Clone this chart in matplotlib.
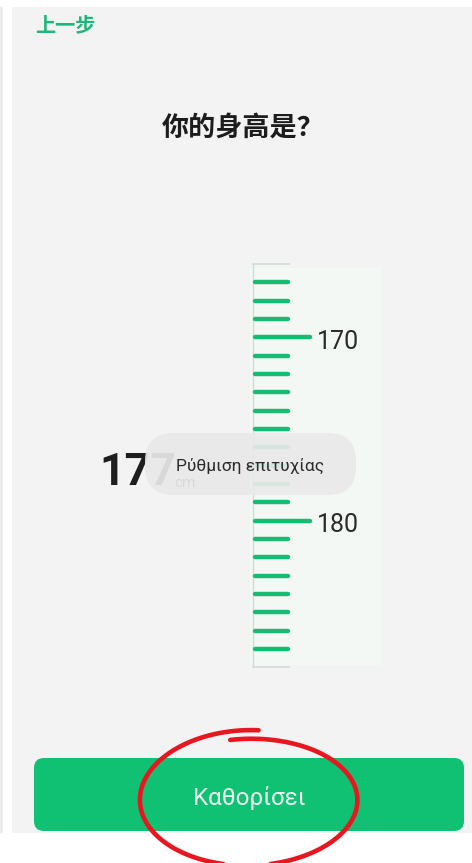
import numpy as np
import matplotlib
matplotlib.use("Agg")
import matplotlib.pyplot as plt
from matplotlib.patches import Rectangle, FancyBboxPatch

plt.rcParams['font.family'] = ['Roboto', 'Noto Sans CJK SC', 'DejaVu Sans']

# Screen texts
back_label = "上一步"
title = "你的身高是？"
toast_text = "Ρύθμιση επιτυχίας"
button_label = "Καθορίσει"
unit = "cm"

# Ruler data (cm)
ruler_values = list(range(166, 189))
labeled_values = [170, 180]
faded_values = [166, 188]
selected_height = 177

# Colours
bg_gray = "#f3f3f3"
panel_color = "#f4f8f4"
green = "#17bb74"
button_green = "#10c073"
red = "#e8161e"

W, H = 472, 863
fig = plt.figure(figsize=(W / 100, H / 100), dpi=100)
fig.patch.set_facecolor("white")
ax = fig.add_axes([0, 0, 1, 1])
ax.set_xlim(0, W)
ax.set_ylim(H, 0)
ax.axis("off")

# Screen background
ax.add_patch(Rectangle((0, 7), 3, 826, facecolor="#ececec", edgecolor="none"))
ax.add_patch(Rectangle((12, 7), W - 12, 826, facecolor=bg_gray, edgecolor="none"))

# Header
ax.text(35, 25, back_label, fontsize=14.5, fontweight="bold", color="#1fb67a",
        ha="left", va="center", family=["Noto Sans CJK SC"])
ax.text(243, 128, title, fontsize=19.5, fontweight="bold", color="#1c1c1c",
        ha="center", va="center", family=["Noto Sans CJK SC"])

# Ruler panel
ax.add_patch(Rectangle((250, 268), 132, 397, facecolor=panel_color, edgecolor="none"))

# Selected value (partly hidden by the toast later)
ax.text(99, 485, str(selected_height), fontsize=32, fontweight="bold",
        color="#1e1e1e", ha="left", va="baseline")
ax.text(174, 487, unit, fontsize=11, color="#1e1e1e", ha="left", va="baseline")

# Ruler
rax = fig.add_axes([250 / W, 1 - 669 / H, 132 / W, 407 / H])
rax.set_xlim(250, 382)
rax.set_ylim(188.1, 165.9)
rax.axis("off")
rax.patch.set_alpha(0)
rax.vlines(253, 166, 188, color="#cfdcd5", lw=1)
for v in ruler_values:
    long_tick = v in labeled_values
    if v in faded_values:
        rax.plot([253, 289], [v, v], color="#d3ddd8", lw=1.3)
        continue
    rax.plot([254.5, 310 if long_tick else 288], [v, v], color=green, lw=3.2,
             solid_capstyle="round")
    if long_tick:
        rax.text(317, v + 0.25, str(v), fontsize=18, color="#2a2a2a",
                 ha="left", va="center")

# Overlay layer: toast, button, red circle
oax = fig.add_axes([0, 0, 1, 1])
oax.set_xlim(0, W)
oax.set_ylim(H, 0)
oax.axis("off")
oax.patch.set_alpha(0)

oax.add_patch(FancyBboxPatch((145, 433), 211, 62,
                             boxstyle="round,pad=0,rounding_size=28",
                             facecolor="#e9e9e9", edgecolor="none", alpha=0.92))
oax.text(250, 466, toast_text, fontsize=12.5, color="#2b2b2b", ha="center",
         va="center")

oax.add_patch(FancyBboxPatch((34, 758), 430, 73,
                             boxstyle="round,pad=0,rounding_size=10",
                             facecolor=button_green, edgecolor="none"))
oax.text(249, 798, button_label, fontsize=17.5, color="#eafaf1", ha="center",
         va="center")

# Hand-drawn red circle around the button label
t = np.radians(np.linspace(-100, 275, 400))
f = np.linspace(0, 1, t.size)
a = 108 + 1.5 * f
b = 61 + 9 * f
oax.plot(249 + a * np.cos(t), 800 + b * np.sin(t), color=red, lw=3.3,
         solid_capstyle="round", zorder=10)

fig.savefig("out.png", dpi=100, facecolor=fig.get_facecolor())
